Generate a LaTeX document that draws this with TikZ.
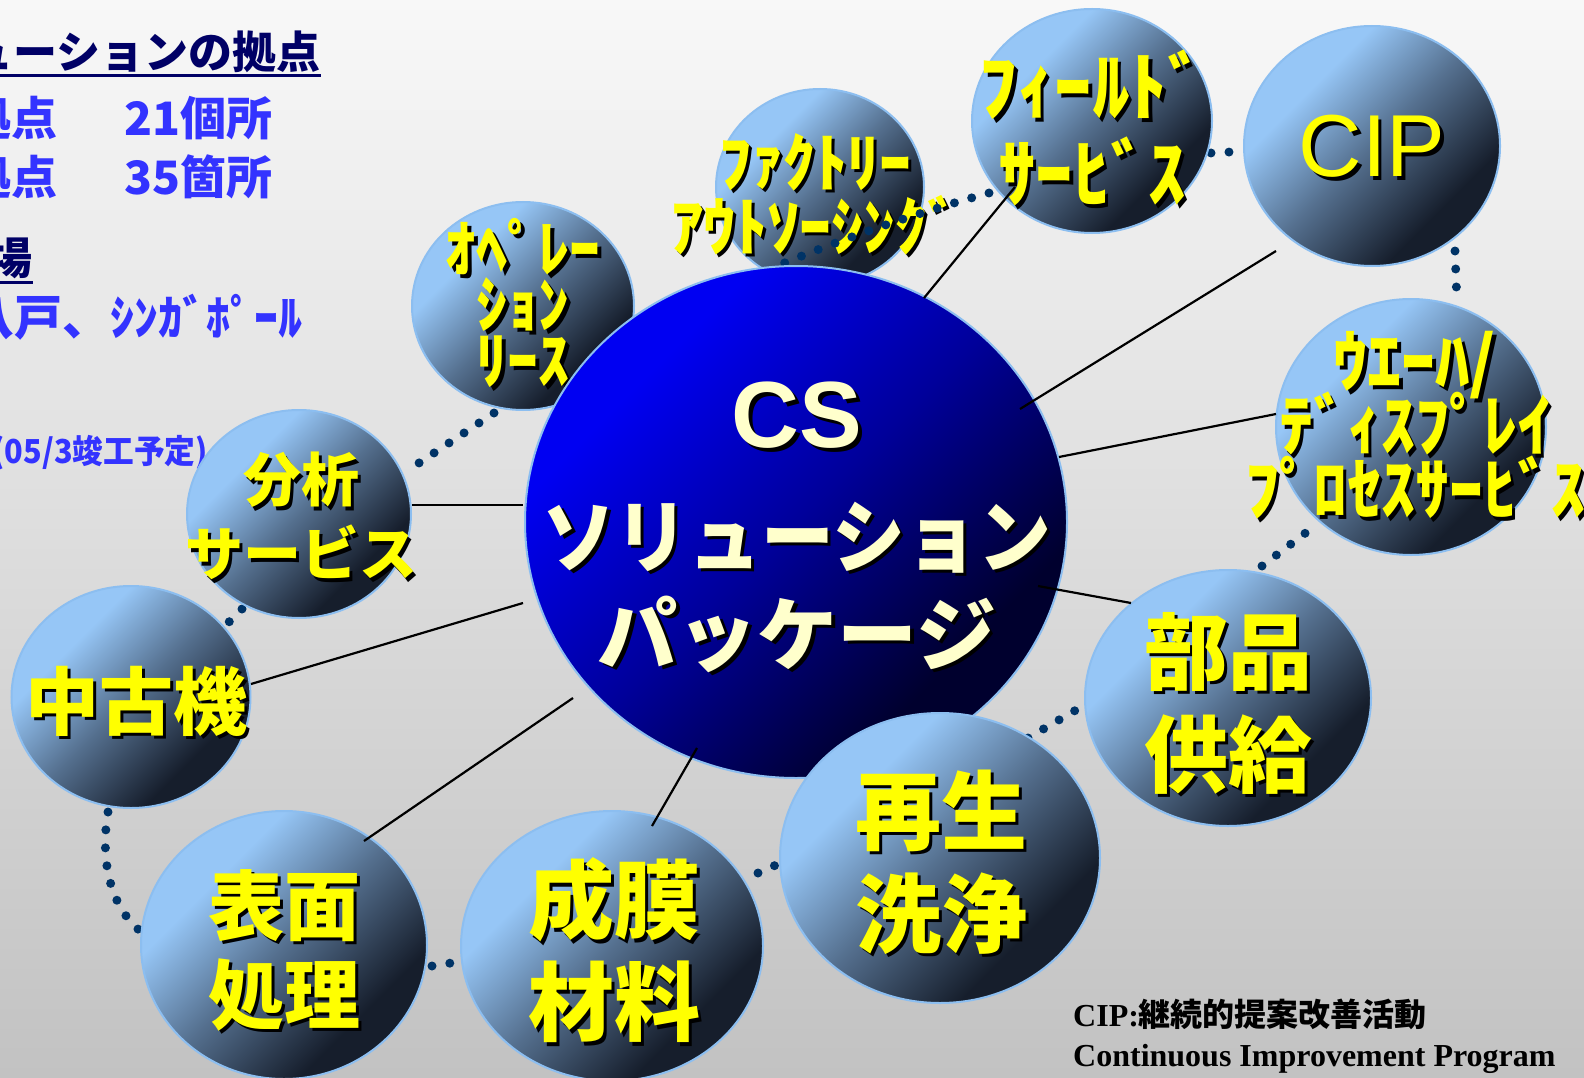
\documentclass[tikz,border=0pt]{standalone}
\usepackage{fontspec}
\setmainfont{Liberation Serif}
\newfontfamily\jp{Noto Sans CJK JP}
\newfontfamily\arial{Liberation Sans}
\usetikzlibrary{shapes.geometric,calc}
\definecolor{bgtop}{HTML}{F8F8F8}
\definecolor{bgbot}{HTML}{C2C2C2}
\definecolor{bla}{HTML}{96C6F6}
\definecolor{blb}{HTML}{55708F}
\definecolor{blc}{HTML}{161E2C}
\definecolor{edgec}{HTML}{8CBEF0}
\definecolor{cba}{HTML}{0000F2}
\definecolor{cbb}{HTML}{00009A}
\definecolor{cbc}{HTML}{00002E}
\definecolor{dotc}{HTML}{003366}
\definecolor{ylw}{HTML}{FFFF00}
\definecolor{cream}{HTML}{FFFFCC}
\definecolor{navy}{HTML}{000066}
\definecolor{txtblue}{HTML}{3333FF}
\pgfdeclarehorizontalshading{bubsh}{100bp}{color(0bp)=(bla); color(33bp)=(bla); color(50bp)=(blb); color(69bp)=(blc); color(100bp)=(blc)}
\pgfdeclarehorizontalshading{cssh}{100bp}{color(0bp)=(cba); color(30bp)=(cba); color(50bp)=(cbb); color(70bp)=(cbc); color(100bp)=(cbc)}
\newcommand\shd[2]{\leavevmode\rlap{\kern3.5pt\raisebox{-3.5pt}{\textcolor{black}{#2}}}\textcolor{#1}{#2}}
\newcommand\ylw[1]{\shd{ylw}{#1}}
\newcommand\crm[1]{\shd{cream}{#1}}
\tikzset{
  bub/.style={ellipse, draw=edgec, line width=2pt, shade, shading=bubsh, shading angle=-45, inner sep=0pt},
  csbub/.style={ellipse, draw=edgec, line width=2pt, shade, shading=cssh, shading angle=-45, inner sep=0pt},
  lbl/.style={align=center, inner sep=0pt, execute at begin node={\lineskiplimit=-1000pt\lineskip=0pt}},
  conn/.style={black, line width=2.2pt},
  dotsty/.style={dotc, line width=9pt, line cap=round, dash pattern=on 0pt off 18pt},
  side/.style={inner sep=0pt, font=\jp\bfseries\fontsize{46}{46}\selectfont, text=txtblue},
  head/.style={inner sep=0pt, font=\jp\bfseries\fontsize{44}{44}\selectfont, text=navy},
}
\begin{document}
\begin{tikzpicture}[x=1pt,y=-1pt]
\useasboundingbox (0,0) rectangle (1584,1078);
\clip (0,0) rectangle (1584,1078);
\shade[top color=bgtop, bottom color=bgbot] (0,0) rectangle (1584,1078);

% left-side texts
\node[head, anchor=base east] (h1) at (321,69) {CSソリューションの拠点};
\draw[navy, line width=3pt] ([yshift=-7pt]h1.base west) -- ([yshift=-7pt]h1.base east);
\node[side, anchor=base east] (k1) at (58,136) {拠点};
\node[side, anchor=base west] (n1) at (124,136) {21個所};
\node[side, anchor=base east] (k2) at (58,195) {拠点};
\node[side, anchor=base west] (n2) at (124,195) {35箇所};
\node[head, anchor=base east] (h2) at (33,274) {工場};
\draw[navy, line width=3pt] ([yshift=-8pt]h2.base west) -- ([yshift=-8pt]h2.base east);
\node[side, anchor=base east, font=\jp\bfseries\fontsize{48}{48}\selectfont] (pl) at (303,335) {八戸、ｼﾝｶﾞﾎﾟｰﾙ};
\node[inner sep=0pt, font=\jp\bfseries\fontsize{33}{33}\selectfont, text=txtblue, anchor=base east, xscale=0.93] (dt) at (208,463) {(05/3竣工予定)};

% back bubbles
\node[bub, minimum width=222, minimum height=208] (ope) at (523,306) {};
\node[lbl, font=\jp\bfseries\fontsize{62}{56}\selectfont] (opet) at (523,305) {\ylw{ｵﾍﾟﾚｰ}\\\ylw{ｼｮﾝ}\\\ylw{ﾘｰｽ}};
\node[bub, minimum width=208, minimum height=196] (fac) at (820,187) {};
\node[lbl, font=\jp\bfseries\fontsize{64}{64}\selectfont] (fact) at (815,196) {\ylw{ﾌｧｸﾄﾘｰ}\\\ylw{ｱｳﾄｿｰｼﾝｸﾞ}};

% dotted ring
\coordinate (d1a) at (989,193); \coordinate (d1b) at (777,266);
\draw[dotsty] (d1a) .. controls (920,212) and (850,236) .. (d1b);
\coordinate (d2a) at (494,413); \coordinate (d2b) at (416,465);
\draw[dotsty] (d2a) -- (d2b);
\coordinate (d3a) at (242,609); \coordinate (d3b) at (229,622);
\draw[dotsty] (d3a) -- (d3b);
\coordinate (d4a) at (108,812); \coordinate (d4b) at (139,930);
\draw[dotsty] (d4a) .. controls (100,860) and (110,905) .. (d4b);
\coordinate (d5a) at (432,966); \coordinate (d5b) at (451,963);
\draw[dotsty] (d5a) -- (d5b);
\coordinate (d6a) at (758,873); \coordinate (d6b) at (776,865);
\draw[dotsty] (d6a) -- (d6b);
\coordinate (d7a) at (1028,738); \coordinate (d7b) at (1076,710);
\draw[dotsty] (d7a) -- (d7b);
\coordinate (d8a) at (1262,566); \coordinate (d8b) at (1316,525);
\draw[dotsty] (d8a) -- (d8b);
\coordinate (d9a) at (1455,251); \coordinate (d9b) at (1457,304);
\draw[dotsty] (d9a) -- (d9b);
\coordinate (d10a) at (1211,153); \coordinate (d10b) at (1230,152);
\draw[dotsty] (d10a) -- (d10b);

% other bubbles
\node[bub, minimum width=240, minimum height=224] (fld) at (1092,121) {};
\node[bub, minimum width=256, minimum height=240] (cip) at (1372,146) {};
\node[bub, minimum width=270, minimum height=256] (waf) at (1411,427) {};
\node[bub, minimum width=286, minimum height=256] (bu) at (1228,698) {};
\node[bub, minimum width=302, minimum height=270] (sei) at (612,946) {};
\node[bub, minimum width=286, minimum height=268] (hyo) at (284,945) {};
\node[bub, minimum width=239, minimum height=222] (chu) at (131,697) {};
\node[bub, minimum width=224, minimum height=208] (bun) at (299,514) {};
\node[csbub, minimum width=542, minimum height=512] (cs) at (796,522) {};
\node[bub, minimum width=320, minimum height=290] (sai) at (940,858) {};

% solid connectors
\coordinate (c1a) at (924,298); \coordinate (c1b) at (1015,187);
\coordinate (c2a) at (1020,409); \coordinate (c2b) at (1276,251);
\coordinate (c3a) at (1059,457); \coordinate (c3b) at (1276,414);
\coordinate (c4a) at (1038,586); \coordinate (c4b) at (1131,603);
\coordinate (c5a) at (697,748); \coordinate (c5b) at (652,826);
\coordinate (c6a) at (573,698); \coordinate (c6b) at (364,841);
\coordinate (c7a) at (523,603); \coordinate (c7b) at (251,684);
\coordinate (c8a) at (412,505); \coordinate (c8b) at (523,505);
\foreach \p in {1,...,8} \draw[conn] (c\p a) -- (c\p b);

% labels
\node[lbl, font=\jp\bfseries\fontsize{75}{87}\selectfont] (fldt) at (1092,130) {\ylw{ﾌｨｰﾙﾄﾞ}\\\ylw{ｻｰﾋﾞｽ}};
\node[lbl, font=\arial\fontsize{88}{88}\selectfont] (cipt) at (1372,148) {\ylw{CIP}};
\node[lbl, font=\jp\bfseries\fontsize{68}{64}\selectfont] (waft) at (1415,427) {\ylw{ｳｴｰﾊ/}\\\ylw{ﾃﾞｨｽﾌﾟﾚｲ}\\\ylw{ﾌﾟﾛｾｽｻｰﾋﾞｽ}};
\node[lbl, font=\jp\bfseries\fontsize{84}{103}\selectfont] (but) at (1228,705) {\ylw{部品}\\\ylw{供給}};
\node[lbl, font=\jp\bfseries\fontsize{86}{103}\selectfont] (sait) at (941,864) {\ylw{再生}\\\ylw{洗浄}};
\node[lbl, font=\jp\bfseries\fontsize{86}{102}\selectfont] (seit) at (614,952) {\ylw{成膜}\\\ylw{材料}};
\node[lbl, font=\jp\bfseries\fontsize{76}{89}\selectfont] (hyot) at (284,952) {\ylw{表面}\\\ylw{処理}};
\node[lbl, font=\jp\bfseries\fontsize{74}{74}\selectfont] (chut) at (136,703) {\ylw{中古機}};
\node[lbl, font=\jp\bfseries\fontsize{58}{74}\selectfont] (bunt) at (301,518) {\ylw{分析}\\\ylw{サービス}};
\node[lbl, font=\arial\bfseries\fontsize{94}{94}\selectfont] (cst) at (797,417) {\crm{CS}};
\node[lbl, font=\jp\bfseries\fontsize{80}{98}\selectfont] (cspt) at (797,589) {\scalebox{0.91}[1]{\crm{ソリューション}}\\\crm{パッケージ}};

% note
\node[inner sep=0pt, anchor=base west, font=\bfseries\fontsize{32}{32}\selectfont] (n3) at (1073,1026) {CIP:{\jp\bfseries 継続的提案改善活動}};
\node[inner sep=0pt, anchor=base west, font=\bfseries\fontsize{32}{32}\selectfont] (n4) at (1073,1066) {Continuous Improvement Program};
\end{tikzpicture}
\end{document}
